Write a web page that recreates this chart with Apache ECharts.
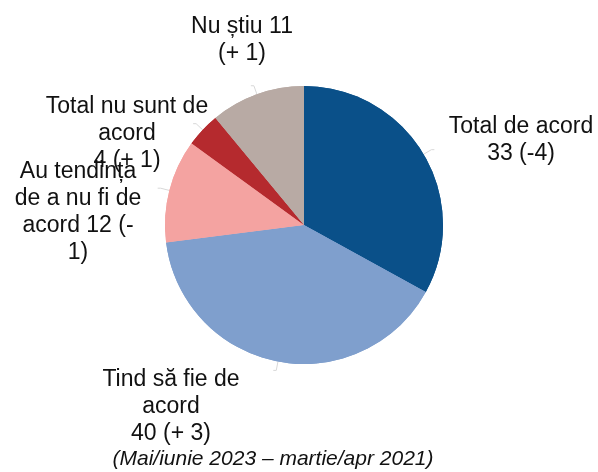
<!DOCTYPE html>
<html>
<head>
<meta charset="utf-8">
<script src="https://cdn.jsdelivr.net/npm/echarts@6/dist/echarts.min.js"></script>
<style>
  html, body { margin: 0; padding: 0; background: #fff; }
  #chart1 { width: 598px; height: 472px; }
</style>
</head>
<body>
<div id="chart1"></div>
<script>
var categories = ['Total de acord', 'Tind să fie de acord', 'Au tendința de a nu fi de acord', 'Total nu sunt de acord', 'Nu știu'];
var values = [33, 40, 12, 4, 11];
var labelTexts = [
    'Total de acord\n33 (-4)',
    'Tind să fie de\nacord\n40 (+ 3)',
    'Au tendința\nde a nu fi de\nacord 12 (-\n1)',
    'Total nu sunt de\nacord\n4 (+ 1)',
    'Nu știu 11\n(+ 1)'
];
var colors = ['#0a5089', '#7f9fcd', '#f4a3a1', '#b52a2e', '#b8aaa4'];
var footnote = '(Mai/iunie 2023 – martie/apr 2021)';

// where each label block sits (center x, top y)
var labelPos = [
    [521, 113],
    [171, 366],
    [78, 158],
    [127, 93],
    [242, 13]
];

var myChart1 = echarts.init(document.getElementById('chart1'));

var pieData = [];
for (var i = 0; i < values.length; i++) {
    pieData.push({
        name: categories[i],
        value: values[i],
        itemStyle: { color: colors[i] }
    });
}

var option = {
    animation: false,
    title: {
        text: footnote,
        left: 268,
        textAlign: 'center',
        top: 444,
        textStyle: {
            fontFamily: 'Liberation Sans',
            fontSize: 21,
            fontStyle: 'italic',
            fontWeight: 'normal',
            color: '#111'
        }
    },
    series: [
        {
            // faint leader stubs only
            type: 'pie',
            silent: true,
            center: [304, 225],
            radius: 139,
            startAngle: 90,
            clockwise: true,
            data: pieData,
            label: {
                show: true,
                position: 'outside',
                formatter: '.',
                color: 'rgba(0,0,0,0)'
            },
            labelLine: {
                show: true,
                length: 9,
                length2: 3,
                lineStyle: { color: '#d8d8d8', width: 1 }
            }
        },
        {
            type: 'pie',
            center: [304, 225],
            radius: 139,
            startAngle: 90,
            clockwise: true,
            avoidLabelOverlap: false,
            data: pieData,
            label: {
                show: true,
                position: 'outside',
                formatter: function (p) {
                    return labelTexts[p.dataIndex];
                },
                fontFamily: 'Liberation Sans',
                fontSize: 23,
                lineHeight: 27,
                color: '#111',
                align: 'center'
            },
            labelLine: { show: false },
            labelLayout: function (params) {
                var pos = labelPos[params.dataIndex];
                return {
                    x: pos[0],
                    y: pos[1],
                    align: 'center',
                    verticalAlign: 'top'
                };
            }
        }
    ]
};

myChart1.setOption(option);
</script>
</body>
</html>
